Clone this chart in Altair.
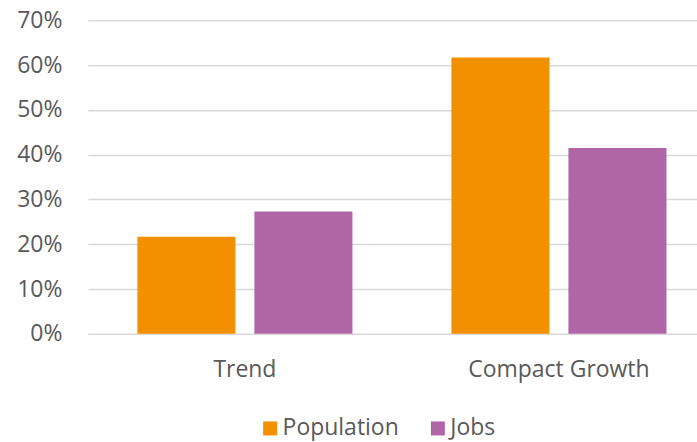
import altair as alt
import pandas as pd

scenarios = ["Trend", "Compact Growth"]
series = ["Population", "Jobs"]
population = [0.217, 0.617]
jobs = [0.273, 0.415]
colors = ["#F39000", "#B066A6"]

rows = []
for i, s in enumerate(scenarios):
    rows.append({"Scenario": s, "Series": "Population", "Value": population[i]})
    rows.append({"Scenario": s, "Series": "Jobs", "Value": jobs[i]})
df = pd.DataFrame(rows)

FONT = "Open Sans"
GRAY = "#595959"

chart = alt.Chart(df).mark_bar().encode(
    x=alt.X("Scenario:N", sort=scenarios, title=None,
            scale=alt.Scale(range=[0, 629], paddingInner=0, paddingOuter=0),
            axis=alt.Axis(labelAngle=0, ticks=False, domain=False, grid=False,
                          labelPadding=25, labelLimit=0,
                          labelFontSize=23, labelColor=GRAY, labelFont=FONT)),
    xOffset=alt.XOffset("Series:N", sort=series,
                        scale=alt.Scale(paddingInner=0.162, paddingOuter=0.423)),
    y=alt.Y("Value:Q", title=None,
            scale=alt.Scale(domain=[0, 0.7], nice=False),
            axis=alt.Axis(format=".0%", values=[0, 0.1, 0.2, 0.3, 0.4, 0.5, 0.6, 0.7],
                          ticks=False, domain=False, labelPadding=26,
                          labelFontSize=23, labelColor=GRAY, labelFont=FONT,
                          gridColor="#D9D9D9", gridWidth=1.5)),
    color=alt.Color("Series:N", sort=series,
                    scale=alt.Scale(domain=series, range=colors),
                    legend=alt.Legend(title=None, orient="none", direction="horizontal",
                                      legendX=171, legendY=397,
                                      symbolType="square", symbolSize=196,
                                      symbolStrokeWidth=0, labelOffset=1,
                                      columnPadding=27, padding=0,
                                      labelFontSize=23, labelColor=GRAY, labelFont=FONT)),
).properties(
    width=610,
    height=314,
    background="white",
    autosize=alt.AutoSizeParams(type="none"),
    padding={"left": 88, "top": 20, "right": 0, "bottom": 108},
).configure_view(stroke=None)

chart.save("out.html", embed_options={"renderer": "svg", "actions": False})
